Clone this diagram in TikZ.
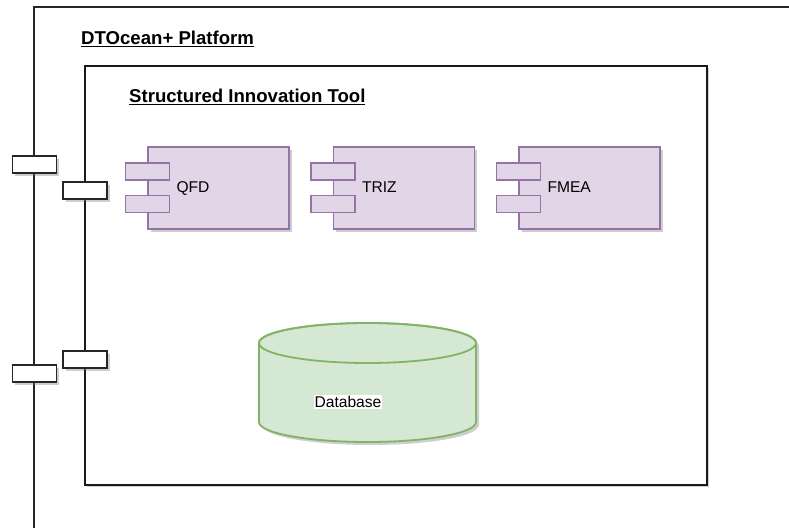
\documentclass[tikz,border=0pt]{standalone}
\usepackage{fontspec}
\setmainfont{Liberation Sans}
\usetikzlibrary{shadows,positioning}
\definecolor{compfill}{HTML}{E1D5E7}
\definecolor{compline}{HTML}{9673A6}
\definecolor{dbfill}{HTML}{D5E8D4}
\definecolor{dbline}{HTML}{82B366}
\tikzset{
  boxshadow/.style={drop shadow={shadow xshift=2.5pt,shadow yshift=-2.5pt,opacity=0.35,fill=black!55}},
  comp/.style={draw=compline,fill=compfill,line width=1.3pt,minimum width=141pt,minimum height=82pt,inner sep=0pt,boxshadow},
  plug/.style={draw=compline,fill=compfill,line width=1.3pt,minimum width=44pt,minimum height=17pt,inner sep=0pt},
  port/.style={draw=black!85,fill=white,line width=1.4pt,minimum width=44pt,minimum height=17pt,inner sep=0pt,boxshadow},
  heading/.style={anchor=west,inner sep=0pt,font=\fontsize{18.6}{22}\selectfont\bfseries},
  complabel/.style={anchor=base west,inner sep=0pt,font=\fontsize{15.6}{18}\selectfont}
}
\begin{document}
\begin{tikzpicture}[x=1pt,y=-1pt]
\useasboundingbox (0,0) rectangle (789,528);
% platform frame, cut by the page edge
\draw [black!85,line width=1.4pt] (34,528) -- (34,7) -- (789,7);
\node [heading] (platform) at (81,38.5) {\underline{DTOcean+ Platform}};
% tool frame
\node [draw=black!90,line width=1.6pt,fill=white,minimum width=622pt,minimum height=419pt,inner sep=0pt,anchor=north west,boxshadow] (tool) at (84,65) {};
\node [heading] (tooltitle) at (129,97) {\underline{Structured Innovation Tool}};
% components
\node [comp] (qfd) at (218.5,188) {};
\node [comp] (triz) at (404,188) {};
\node [comp] (fmea) at (589.5,188) {};
\foreach \c/\t in {qfd/QFD,triz/TRIZ,fmea/FMEA} {
  \node [plug] (\c-a) at ([yshift=16.5pt]\c.west) {};
  \node [plug] (\c-b) at ([yshift=-16pt]\c.west) {};
  \node [complabel] (\c-text) at ([xshift=29pt,yshift=-4pt]\c.west) {\t};
}
% database
\fill [black!55,opacity=0.35] (262,346) -- (262,425) arc (180:360:108.5pt and 20pt) -- (479,346) arc (0:180:108.5pt and 20pt) -- cycle;
\draw [dbline,fill=dbfill,line width=1.8pt] (259,343) -- (259,422) arc (180:360:108.5pt and 20pt) -- (476,343) arc (0:180:108.5pt and 20pt) -- cycle;
\draw [dbline,line width=1.8pt] (367.5,343) ellipse (108.5pt and 20pt);
\node [complabel,anchor=center,fill=white,inner sep=1pt] (db) at (348,402) {Database};
% ports
\node [port] (outer-a) at (34.5,164.5) {};
\node [port] (outer-b) at (34.5,373.5) {};
\node [port] (inner-a) at (85,190.5) {};
\node [port] (inner-b) at (85,359.5) {};
\end{tikzpicture}
\end{document}
